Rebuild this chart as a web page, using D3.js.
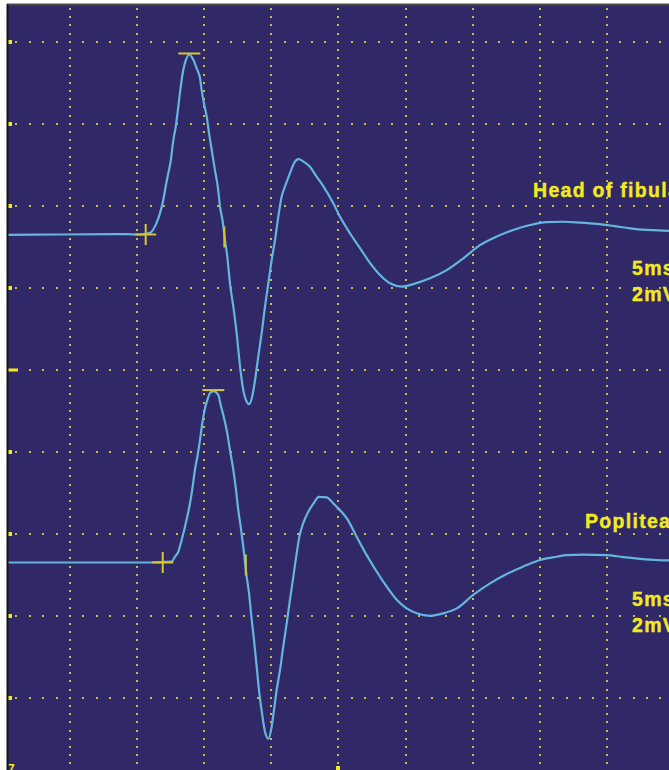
<!DOCTYPE html>
<html>
<head>
<meta charset="utf-8">
<script src="https://cdn.jsdelivr.net/npm/d3@7"></script>
<style>
  html, body { margin: 0; padding: 0; background: #ffffff; }
  svg { display: block; }
</style>
</head>
<body>
<script>
// Motor nerve conduction study: two stimulation sites, one recording each
const sites = ["Head of fibula", "Popliteal"];
const sweepLabel = "5ms";
const gainLabel = "2mV";

// Head of fibula trace: latency (ms) and amplitude (mV, relative to baseline)
const fibulaTime = [0, 4.25, 9.10, 10.22, 10.96, 11.46, 11.71, 11.95, 12.13, 12.32, 12.50, 12.70, 12.88, 13.07, 13.25, 13.44, 13.64, 13.89, 14.19, 14.44, 14.69, 14.81, 14.98, 15.19, 15.36, 15.56, 15.80, 16.01, 16.18, 16.38, 16.55, 16.72, 16.92, 17.17, 17.42, 17.67, 17.91, 18.17, 18.34, 18.54, 18.79, 19.03, 19.28, 19.53, 19.78, 20.03, 20.28, 20.52, 20.77, 21.02, 21.39, 21.71, 22.03, 22.38, 22.88, 23.38, 23.87, 24.62, 25.12, 25.86, 26.61, 27.36, 28.10, 28.84, 29.72, 30.58, 31.83, 33.07, 34.31, 35.55, 36.80, 38.03, 39.28, 40.52, 41.76, 43.00, 44.25, 45.48, 46.73, 47.97, 49.64, 50];
const fibulaAmp = [-0.01, 0, 0.01, 0, 0.04, 0.29, 0.52, 0.84, 1.17, 1.49, 1.78, 2.30, 2.63, 3.12, 3.60, 4.01, 4.26, 4.39, 4.26, 4.05, 3.81, 3.52, 3.20, 2.87, 2.47, 2.06, 1.57, 1.17, 0.68, 0.31, -0.13, -0.54, -1.19, -1.76, -2.41, -3.22, -3.79, -4.08, -4.14, -4.00, -3.55, -2.98, -2.41, -1.76, -1.19, -0.62, -0.13, 0.43, 0.92, 1.17, 1.49, 1.75, 1.84, 1.78, 1.65, 1.41, 1.18, 0.76, 0.43, 0.03, -0.33, -0.70, -0.99, -1.19, -1.27, -1.21, -1.07, -0.87, -0.58, -0.26, -0.05, 0.11, 0.23, 0.30, 0.31, 0.29, 0.26, 0.21, 0.15, 0.11, 0.09, 0.09];

// Popliteal trace: latency (ms) and amplitude (mV, relative to baseline)
const poplitealTime = [0, 4.25, 8.73, 10.96, 12.58, 12.82, 13.07, 13.32, 13.57, 13.74, 13.94, 14.14, 14.31, 14.49, 14.69, 14.86, 15.06, 15.23, 15.43, 15.68, 16.05, 16.23, 16.48, 16.72, 16.92, 17.17, 17.37, 17.54, 17.72, 17.91, 18.17, 18.34, 18.49, 18.71, 18.91, 19.11, 19.31, 19.53, 19.78, 20.03, 20.20, 20.40, 20.65, 20.89, 21.15, 21.39, 21.64, 21.89, 22.09, 22.38, 22.76, 23.13, 23.55, 24.13, 24.62, 24.87, 25.62, 26.36, 27.11, 27.85, 28.60, 29.34, 30.09, 30.83, 31.83, 32.82, 33.82, 35.05, 36.30, 37.54, 38.78, 40.03, 41.27, 42.01, 43.25, 44.99, 46.23, 47.48, 48.72, 49.58, 50];
const poplitealAmp = [0, 0, 0, 0, 0.02, 0.14, 0.26, 0.55, 0.87, 1.12, 1.44, 1.85, 2.26, 2.58, 2.99, 3.40, 3.76, 3.96, 4.13, 4.18, 4.09, 3.84, 3.52, 3.15, 2.74, 2.26, 1.77, 1.28, 0.87, 0.39, -0.35, -0.75, -1.24, -1.89, -2.54, -3.19, -3.68, -4.13, -4.30, -4.00, -3.60, -3.11, -2.62, -2.05, -1.48, -0.91, -0.35, 0.22, 0.63, 0.96, 1.24, 1.43, 1.60, 1.59, 1.44, 1.36, 1.08, 0.63, 0.18, -0.22, -0.59, -0.91, -1.12, -1.24, -1.30, -1.24, -1.12, -0.79, -0.51, -0.28, -0.10, 0.06, 0.14, 0.18, 0.19, 0.18, 0.13, 0.09, 0.06, 0.05, 0.05];

// Cursor latencies (ms): onset, negative peak, baseline crossing
const onsetLatency = [10.64, 11.91];
const peakLatency = [13.89, 15.68];
const crossingLatency = [16.50, 18.10];

// ---- screen layout ----
const W = 669, H = 770;
const screen = { left: 7, top: 4 };
const msPerDiv = 5, mvPerDiv = 2;
const channelBaseDiv = [3.351, 7.351];      // baseline of each channel, in screen divisions
const textStyle = { font: "'Liberation Sans', Arial, sans-serif", size: 19.5 };
const labelPos = [
  { nameX: 533, nameDy: -37.5, unitsX: 632, sweepDy: 40.5, gainDy: 66.5 },
  { nameX: 585, nameDy: -34.5, unitsX: 632, sweepDy: 43.5, gainDy: 69.5 }
];

const bg = "#302867", gridCol = "#c9bf3a", markCol = "#f3ea1e",
      cursorCol = "#d6c92c", traceCol = "#63b6df";

const x = d3.scaleLinear().domain([0, 10 * msPerDiv]).range([2.9, 673.9]);
const yDiv = d3.scaleLinear().domain([0, 10]).range([-40.3, 779.7]);
const yCh = (ch, mv) => yDiv(channelBaseDiv[ch] - mv / mvPerDiv);

const svg = d3.select("body").append("svg")
  .attr("width", W).attr("height", H);

svg.append("rect").attr("width", W).attr("height", H).attr("fill", "#ffffff");

svg.append("defs").append("clipPath").attr("id", "scr")
  .append("rect").attr("x", screen.left).attr("y", screen.top)
  .attr("width", W - screen.left).attr("height", H - screen.top);

const g = svg.append("g").attr("clip-path", "url(#scr)");

g.append("rect").attr("x", screen.left).attr("y", screen.top)
  .attr("width", W - screen.left).attr("height", H - screen.top).attr("fill", bg);

// dotted graticule: vertical lines carry 10 dots per division, horizontal lines 5
const dots = [];
d3.range(1, 10).forEach(k => {
  const gx = x(k * msPerDiv);
  d3.range(0, 101).forEach(j => dots.push([gx, yDiv(j / 10)]));
});
d3.range(1, 10).forEach(k => {
  const gy = yDiv(k);
  d3.range(1, 10 * msPerDiv).forEach(j => dots.push([x(j), gy]));
});
g.append("g").selectAll("rect").data(dots).join("rect")
  .attr("x", d => Math.round(d[0]) - 1).attr("y", d => Math.round(d[1]) - 1)
  .attr("width", 2).attr("height", 2).attr("fill", gridCol);

// division markers along the left edge and the centre marker at the bottom
g.append("g").selectAll("rect").data(d3.range(1, 10)).join("rect")
  .attr("x", screen.left + 1)
  .attr("y", d => Math.round(yDiv(d)) - (d === 5 ? 1.5 : 2))
  .attr("width", d => d === 5 ? 10 : 4)
  .attr("height", d => d === 5 ? 3 : 4)
  .attr("fill", markCol);
g.append("rect").attr("x", Math.round(x(25)) - 2).attr("y", H - 4)
  .attr("width", 4).attr("height", 4).attr("fill", markCol);

// screen frame
svg.append("line").attr("x1", screen.left).attr("x2", W)
  .attr("y1", screen.top + 0.5).attr("y2", screen.top + 0.5)
  .attr("stroke", "#4a4a4a").attr("stroke-width", 2);
svg.append("line").attr("x1", screen.left + 0.5).attr("x2", screen.left + 0.5)
  .attr("y1", screen.top).attr("y2", H)
  .attr("stroke", "#151515").attr("stroke-width", 2);

// traces
const traces = [
  d3.zip(fibulaTime, fibulaAmp),
  d3.zip(poplitealTime, poplitealAmp)
];
traces.forEach((pts, ch) => {
  const line = d3.line()
    .x(d => x(d[0]))
    .y(d => yCh(ch, d[1]))
    .curve(d3.curveMonotoneX);
  g.append("path").datum(pts)
    .attr("d", line).attr("fill", "none")
    .attr("stroke", traceCol).attr("stroke-width", 2.2)
    .attr("stroke-linejoin", "round");
});

// cursors
traces.forEach((pts, ch) => {
  const cg = g.append("g").attr("stroke", cursorCol).attr("stroke-width", 2);
  // onset cross
  const ox = x(onsetLatency[ch]), oy = yCh(ch, 0);
  cg.append("line").attr("x1", ox - 10.5).attr("x2", ox + 10.5).attr("y1", oy).attr("y2", oy);
  cg.append("line").attr("x1", ox).attr("x2", ox).attr("y1", oy - 10.5).attr("y2", oy + 10.5);
  // peak bar
  const peakAmp = d3.max(pts, d => d[1]);
  const px = x(peakLatency[ch]), py = yCh(ch, peakAmp) - 1;
  cg.append("line").attr("x1", px - 11).attr("x2", px + 11).attr("y1", py).attr("y2", py);
  // baseline crossing tick
  const cx = x(crossingLatency[ch]);
  cg.append("line").attr("x1", cx).attr("x2", cx)
    .attr("y1", yCh(ch, 0) - 8).attr("y2", yCh(ch, 0) + 13);
});

// channel labels
const tg = g.append("g")
  .attr("font-family", textStyle.font).attr("font-size", textStyle.size)
  .attr("font-weight", "bold").attr("letter-spacing", 1.3).attr("fill", markCol)
  .attr("stroke", markCol).attr("stroke-width", 0.4);
sites.forEach((name, ch) => {
  const base = yCh(ch, 0), p = labelPos[ch];
  tg.append("text").attr("x", p.nameX).attr("y", base + p.nameDy).text(name);
  tg.append("text").attr("x", p.unitsX).attr("y", base + p.sweepDy).text(sweepLabel);
  tg.append("text").attr("x", p.unitsX).attr("y", base + p.gainDy).text(gainLabel);
});
tg.append("text").attr("x", screen.left + 1).attr("y", H + 3)
  .attr("font-size", 12).attr("stroke-width", 0).text("7");
</script>
</body>
</html>
